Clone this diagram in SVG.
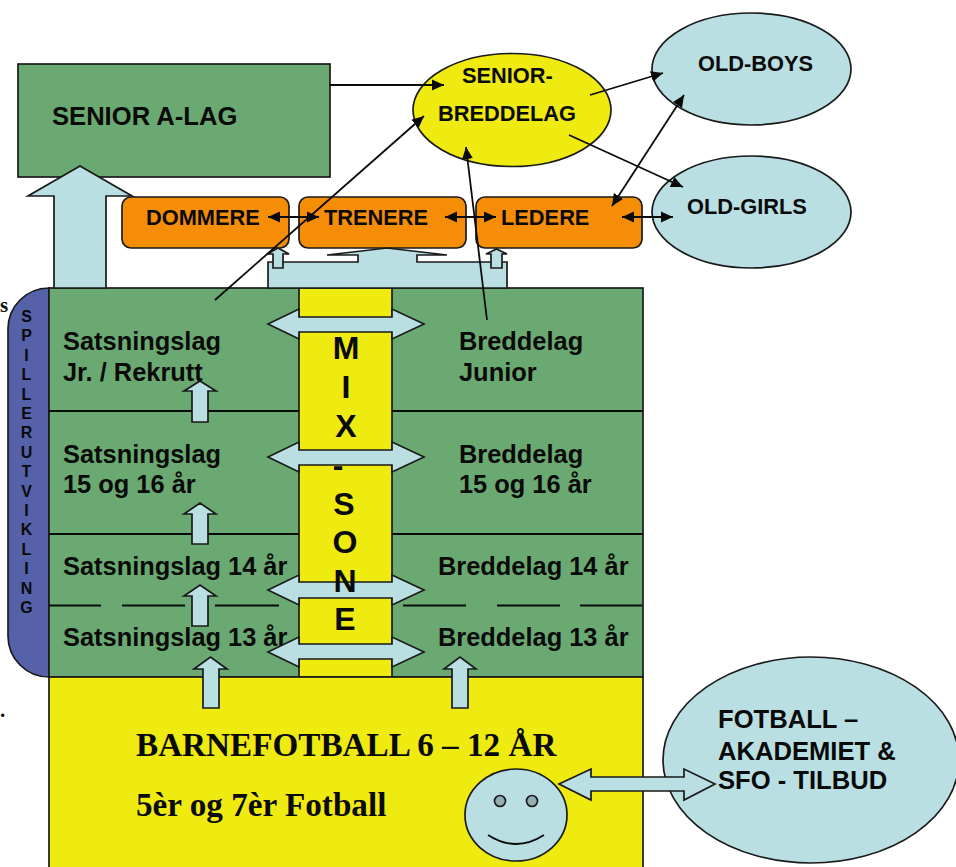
<svg xmlns="http://www.w3.org/2000/svg" width="956" height="867" viewBox="0 0 956 867">
<style>
text{font-family:"Liberation Sans",Arial,sans-serif;font-weight:700;fill:#0a0a0a}
.t{font-size:25.6px}.l{font-size:25.4px}.s{font-size:21.8px}.v{font-size:16px;text-anchor:middle}.m{font-size:32px;text-anchor:middle}
.r{font-family:"Liberation Serif","Times New Roman",serif;font-size:33.2px}
.box{stroke:#1a1a1a;stroke-width:1.7}
.green{fill:#6aaa72}.yellow{fill:#efea10}.lblue{fill:#b9dfe3}.orange{fill:#f68d06}
.blk{fill:#b9dfe3;stroke:#1a1a1a;stroke-width:1.7}
.ln{fill:none;stroke:#0a0a0a;stroke-width:1.8}
.e{marker-end:url(#ah)}.d{marker-start:url(#ah);marker-end:url(#ah)}
</style>
<defs><marker id="ah" markerUnits="userSpaceOnUse" markerWidth="13" markerHeight="12" refX="12" refY="6" orient="auto-start-reverse"><path d="M0 0.500L12 6L0 11.500z" fill="#0a0a0a"/></marker></defs>
<rect width="956" height="867" fill="#fff"/>
<text x="0" y="312" class="r" style="font-size:21px">s</text>
<text x="0" y="717" class="r" style="font-size:21px">.</text>

<g id="senior-a-lag"><rect class="box green" x="18" y="64" width="312" height="113"/><text class="t" x="52" y="125">SENIOR A-LAG</text></g>
<g id="senior-breddelag"><ellipse class="box yellow" cx="512" cy="110" rx="99" ry="56.500"/><text class="s" x="462" y="83">SENIOR-</text><text class="s" x="438" y="121">BREDDELAG</text></g>
<g id="old-boys"><ellipse class="box lblue" cx="751.500" cy="69" rx="99.500" ry="56"/><text class="s" x="698" y="71">OLD-BOYS</text></g>
<g id="old-girls"><ellipse class="box lblue" cx="751.500" cy="212" rx="99.500" ry="56"/><text class="s" x="687" y="214">OLD-GIRLS</text></g>
<g id="dommere"><rect class="box orange" x="122" y="197" width="167" height="51" rx="9"/><text class="s" x="146" y="225">DOMMERE</text></g>
<g id="trenere"><rect class="box orange" x="299" y="197" width="167" height="51" rx="9"/><text class="s" x="324" y="225">TRENERE</text></g>
<g id="ledere"><rect class="box orange" x="476" y="197" width="166" height="51" rx="9"/><text class="s" x="501" y="225">LEDERE</text></g>

<g id="spillerutvikling"><path class="box" fill="#5561a8" d="M49 288H49A41 41 0 0 0 8 329V636A41 41 0 0 0 49 677Z"/>
<text class="v" x="26.500" y="322">S</text><text class="v" x="26.500" y="341">P</text><text class="v" x="26.500" y="361">I</text><text class="v" x="26.500" y="380">L</text><text class="v" x="26.500" y="400">L</text><text class="v" x="26.500" y="419">E</text><text class="v" x="26.500" y="438">R</text><text class="v" x="26.500" y="458">U</text><text class="v" x="26.500" y="477">T</text><text class="v" x="26.500" y="497">V</text><text class="v" x="26.500" y="516">I</text><text class="v" x="26.500" y="535">K</text><text class="v" x="26.500" y="555">L</text><text class="v" x="26.500" y="574">I</text><text class="v" x="26.500" y="594">N</text><text class="v" x="26.500" y="613">G</text></g>

<g id="lag"><rect class="box green" x="49" y="288" width="594" height="389"/>
<path class="ln" d="M49 411H643M49 534H643M49 605.500H101M122 605.500H185M215 605.500H279M403 605.500H466M497 605.500H560M580 605.500H642"/>
<text class="l" x="63" y="350">Satsningslag</text><text class="l" x="63" y="381">Jr. / Rekrutt</text>
<text class="l" x="459" y="350">Breddelag</text><text class="l" x="459" y="381">Junior</text>
<text class="l" x="63" y="463">Satsningslag</text><text class="l" x="63" y="493">15 og 16 år</text>
<text class="l" x="459" y="463">Breddelag</text><text class="l" x="459" y="493">15 og 16 år</text>
<text class="l" x="63" y="575">Satsningslag 14 år</text><text class="l" x="438" y="575">Breddelag 14 år</text>
<text class="l" x="63" y="646">Satsningslag 13 år</text><text class="l" x="438" y="646">Breddelag 13 år</text></g>

<g id="mix-sone-felt"><rect class="box yellow" x="299" y="288" width="93" height="389"/></g>

<g id="barnefotball"><rect class="box yellow" x="49" y="677" width="594" height="192"/><text class="r" x="136" y="756">BARNEFOTBALL 6 – 12 ÅR</text><text class="r" x="136" y="816">5èr og 7èr Fotball</text></g>
<g id="smiley"><ellipse class="box lblue" cx="516" cy="815" rx="51" ry="46"/><circle class="box" fill="#94aeb4" cx="500" cy="801" r="5.500"/><circle class="box" fill="#94aeb4" cx="532" cy="801" r="5.500"/><path class="ln" d="M488 835Q516 853 544 835"/></g>
<g id="akademiet"><ellipse class="box lblue" cx="811" cy="760" rx="148" ry="103"/><text class="t" x="718" y="728">FOTBALL –</text><text class="t" x="718" y="760">AKADEMIET &amp;</text><text class="t" x="718" y="789">SFO - TILBUD</text></g>

<g id="connectors">
<path class="blk" d="M54 288V196H28L80 166L132 196H106V288Z"/>
<path class="blk" d="M268 288V262H358V255H327L387 248L447 255H417V262H507V288Z"/>
<path class="blk" d="M273 268V254H267L278 248L289 254H283V268Z"/>
<path class="blk" d="M491 268V254H486L496.500 249L507 254H502V268Z"/>
<path class="blk" d="M192 422V391H184L200 381L216 391H208V422Z"/>
<path class="blk" d="M192 544V514H184L200 503L216 514H208V544Z"/>
<path class="blk" d="M192 626V596H184L200 585L216 596H208V626Z"/>
<path class="blk" d="M203 708V669H194L210.500 657L227 669H219V708Z"/>
<path class="blk" d="M452 708V669H444L460 657L476 669H468V708Z"/>
<path class="blk" d="M268 324L299 309V317H392V309L424 324L392 339V332H299V339Z"/>
<path class="blk" d="M268 457L299 442V450H392V442L424 457L392 472V465H299V472Z"/>
<path class="blk" d="M268 590L299 575V582H392V575L424 590L392 605V598H299V605Z"/>
<path class="blk" d="M268 652L299 637V644H392V637L424 652L392 667V659H299V667Z"/>
<path class="blk" d="M559 784L591 769V777H684V769L715 784L684 800V791H591V800Z"/>
<path class="ln e" d="M330 85H444"/>
<path class="ln e" d="M215 300L424 116"/>
<path class="ln e" d="M487 320L466 147"/>
<path class="ln e" d="M590 95L663 73"/>
<path class="ln e" d="M569 135L683 187"/>
<path class="ln d" d="M612 206L684 95"/>
<path class="ln d" d="M622 217H673"/>
<path class="ln d" d="M268 217H319"/>
<path class="ln d" d="M445 217H496"/>
</g>

<g id="mix-sone"><text class="m" x="346" y="359">M</text><text class="m" x="346" y="398">I</text><text class="m" x="346" y="437">X</text><text class="m" x="338" y="476">-</text><text class="m" x="344" y="515">S</text><text class="m" x="345" y="553">O</text><text class="m" x="345" y="592">N</text><text class="m" x="345" y="630">E</text></g>
</svg>
